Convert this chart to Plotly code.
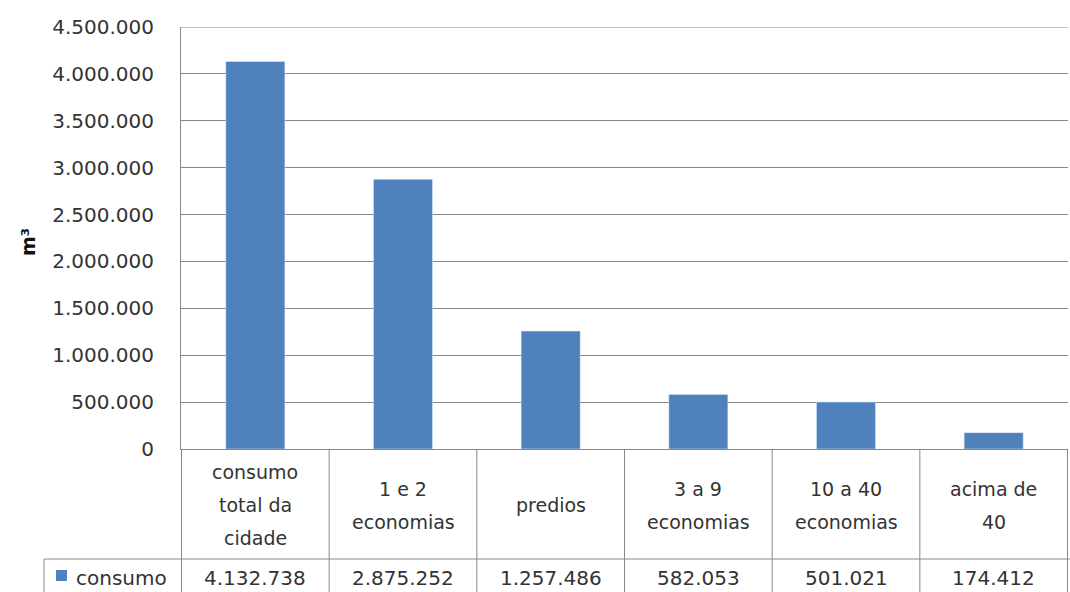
import plotly.graph_objects as go

# Consumption by building category (m³)
categories = ["consumo total da cidade", "1 e 2 economias", "predios",
              "3 a 9 economias", "10 a 40 economias", "acima de 40"]
header_lines = [["consumo", "total da", "cidade"],
                ["1 e 2", "economias"],
                ["predios"],
                ["3 a 9", "economias"],
                ["10 a 40", "economias"],
                ["acima de", "40"]]
consumo = [4132738, 2875252, 1257486, 582053, 501021, 174412]
series_name = "consumo"
y_ticks = [0, 500000, 1000000, 1500000, 2000000, 2500000, 3000000,
           3500000, 4000000, 4500000]

W, H = 1070, 592
L, R, T, B = 181, 2, 27, 143
plot_h = H - T - B
plot_w = W - L - R

BAR = "#4F81BD"
GRID = "#888888"
TXT = "#333333"
FONT = "DejaVu Sans"


def py(pix):
    """Pixel row -> paper y."""
    return (H - B - pix) / plot_h


def px(pix):
    """Pixel column -> paper x."""
    return (pix - L) / plot_w


def fmt(v):
    return f"{v:,}".replace(",", ".")


fig = go.Figure(go.Bar(x=categories, y=consumo, name=series_name,
                       marker_color=BAR, width=0.4, showlegend=False))

shapes = []
annotations = []
n = len(categories)
row1_bottom = py(559)
row2_bottom = py(600)

# top gridline at the axis maximum
shapes.append(dict(type="line", xref="paper", yref="y",
                   x0=0, x1=1, y0=y_ticks[-1], y1=y_ticks[-1],
                   line=dict(color=GRID, width=1)))
# data table: horizontal rules
shapes.append(dict(type="line", xref="paper", yref="paper",
                   x0=px(44), x1=1.01, y0=row1_bottom, y1=row1_bottom,
                   line=dict(color=GRID, width=1)))
# vertical rules between categories
for i in range(n + 1):
    shapes.append(dict(type="line", xref="x", yref="paper",
                       x0=i - 0.5, x1=i - 0.5, y0=0, y1=row2_bottom,
                       line=dict(color=GRID, width=1)))
# left edge of the legend cell
shapes.append(dict(type="line", xref="paper", yref="paper",
                   x0=px(44), x1=px(44), y0=row1_bottom, y1=row2_bottom,
                   line=dict(color=GRID, width=1)))
# legend key
shapes.append(dict(type="rect", xref="paper", yref="paper",
                   x0=px(56), x1=px(67), y0=py(581), y1=py(570),
                   fillcolor=BAR, line=dict(width=0)))

annotations.append(dict(x=px(74), y=py(578), xref="paper", yref="paper",
                        text=series_name, showarrow=False, xanchor="left",
                        yanchor="middle", font=dict(family=FONT, size=20, color=TXT)))

for i, (lines, v) in enumerate(zip(header_lines, consumo)):
    k = len(lines)
    for j, line in enumerate(lines):
        ypix = 505 + (j - (k - 1) / 2) * 33
        annotations.append(dict(x=i, y=py(ypix), xref="x", yref="paper",
                                text=line, showarrow=False, xanchor="center",
                                yanchor="middle",
                                font=dict(family=FONT, size=19, color=TXT)))
    annotations.append(dict(x=i, y=py(578), xref="x", yref="paper",
                            text=fmt(v), showarrow=False, xanchor="center",
                            yanchor="middle",
                            font=dict(family=FONT, size=20, color=TXT)))

# y-axis title
annotations.append(dict(x=px(28), y=py(242), xref="paper", yref="paper",
                        text="<b>m³</b>", showarrow=False, textangle=-90,
                        xanchor="center", yanchor="middle",
                        font=dict(family=FONT, size=19, color="#111111")))

fig.update_layout(
    width=W, height=H,
    margin=dict(l=L, r=R, t=T, b=B, pad=0),
    paper_bgcolor="white", plot_bgcolor="white",
    separators=",.",
    shapes=shapes, annotations=annotations,
    bargap=0.6,
    font=dict(family=FONT, size=20, color=TXT),
)
fig.update_xaxes(showticklabels=False, showgrid=False, showline=True,
                 linecolor=GRID, linewidth=1, ticks="")
fig.update_yaxes(range=[0, 4500000], tickvals=y_ticks, tickformat=",d",
                 showgrid=True, gridcolor=GRID, gridwidth=1,
                 showline=True, linecolor=GRID, linewidth=1,
                 zeroline=False, ticks="", ticklabelstandoff=22,
                 tickfont=dict(family=FONT, size=20, color=TXT))

fig.write_html("out.html")
